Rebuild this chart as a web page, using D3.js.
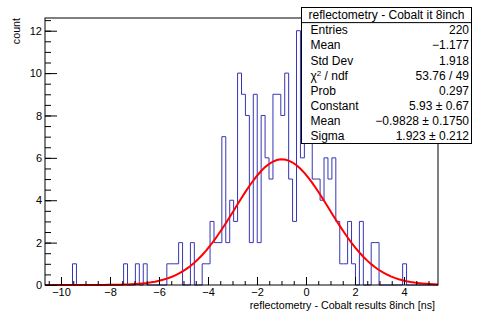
<!DOCTYPE html>
<html><head><meta charset="utf-8">
<script src="https://cdn.jsdelivr.net/npm/d3@7"></script>
<style>
body{margin:0;background:#fff}
svg{display:block}
text{font-family:"Liberation Sans",Arial,Helvetica,sans-serif;fill:#000}
</style>
</head><body>
<svg id="c" width="481" height="321"></svg>
<script>
// ---- data ----
const xMin = -10.653, xMax = 5.388;        // histogram range, 100 bins
const binCounts = [
  0,0,0,0,0,0,0,1,0,0,
  0,0,0,0,0,0,0,0,0,0,
  1,0,0,1,0,1,0,0,0,0,
  0,1,1,1,2,0,0,2,0,0,
  1,1,3,2,2,7,2,4,3,10,
  9,8,2,9,2,8,6,5,9,9,
  8,10,5,3,12,6,7,8,5,5,
  4,6,5,6,3,1,1,3,1,0,
  3,0,0,2,2,0,0,0,0,0,
  0,1,0,0,0,0,0,0,0,0
];
const fitConstant = 5.93, fitMean = -0.9828, fitSigma = 1.923;
const yMaxValue = 12.6;
const xTickValues = [-10,-8,-6,-4,-2,0,2,4];
const yTickValues = [0,2,4,6,8,10,12];
const xTitle = "reflectometry - Cobalt results 8inch [ns]";
const yTitle = "count";
const statsTitle = "reflectometry - Cobalt it 8inch";
const statsLabels = ["Entries","Mean","Std Dev","χ2 / ndf","Prob","Constant","Mean","Sigma"];
const statsValues = ["220","\u22121.177","1.918","53.76 / 49","0.297","5.93 \u00b1 0.67","\u22120.9828 \u00b1 0.1750","1.923 \u00b1 0.212"];

// ---- layout ----
const W = 481, H = 321;
const fL = 45, fR = 438, fT = 18, fB = 285;
const svg = d3.select("#c");
svg.append("rect").attr("width",W).attr("height",H).attr("fill","#fff");

const x = d3.scaleLinear().domain([xMin,xMax]).range([fL,fR]);
const y = d3.scaleLinear().domain([0,yMaxValue]).range([fB,fT]);
const minus = s => String(s).replace("-","\u2212");

// histogram outline (step)
const nBins = binCounts.length;
const bw = (xMax - xMin)/nBins;
const pts = [[xMin,0]];
binCounts.forEach((c,i)=>{ pts.push([xMin+i*bw,c]); pts.push([xMin+(i+1)*bw,c]); });
pts.push([xMax,0]);
svg.append("path")
  .attr("d", d3.line().x(d=>x(d[0])).y(d=>y(d[1]))(pts))
  .attr("fill","none").attr("stroke","#3636b4").attr("stroke-width",1);

// gaussian fit curve from fit parameters
const fitPts = d3.range(0,101).map(k=>{
  const xv = xMin + (xMax-xMin)*k/100;
  return [xv, fitConstant*Math.exp(-0.5*Math.pow((xv-fitMean)/fitSigma,2))];
});
svg.append("path")
  .attr("d", d3.line().x(d=>x(d[0])).y(d=>y(d[1]))(fitPts))
  .attr("fill","none").attr("stroke","#ff0000").attr("stroke-width",2);

// axes
const fs = "11px";
const xMinor = d3.range(-10.5, 5.4, 0.5).filter(v=>v>=xMin && v<=xMax);
const yMinor = d3.range(0, 12.6, 0.5);
const gx = svg.append("g").attr("transform",`translate(0,${fB})`);
gx.call(d3.axisBottom(x).tickValues(xMinor).tickSize(-4).tickFormat(""));
gx.call(g=>g.select(".domain").remove());
const gx2 = svg.append("g").attr("transform",`translate(0,${fB})`);
gx2.call(d3.axisBottom(x).tickValues(xTickValues).tickSize(-8).tickPadding(3.5).tickFormat(d=>minus(d)));
gx2.select(".domain").remove();
gx2.selectAll("text").attr("font-size",fs).attr("font-family","Liberation Sans, Arial, sans-serif").attr("fill","#000");

const gy = svg.append("g").attr("transform",`translate(${fL},0)`);
gy.call(d3.axisLeft(y).tickValues(yMinor).tickSize(-6).tickFormat(""));
gy.select(".domain").remove();
const gy2 = svg.append("g").attr("transform",`translate(${fL},0)`);
gy2.call(d3.axisLeft(y).tickValues(yTickValues).tickSize(-12).tickPadding(3).tickFormat(d=>d));
gy2.select(".domain").remove();
gy2.selectAll("text").attr("font-size",fs).attr("font-family","Liberation Sans, Arial, sans-serif").attr("fill","#000");
svg.selectAll(".tick line").attr("stroke","#000");

// frame
svg.append("rect").attr("x",fL).attr("y",fT).attr("width",fR-fL).attr("height",fB-fT)
  .attr("fill","none").attr("stroke","#000").attr("stroke-width",1);

// axis titles
svg.append("text").attr("x",435).attr("y",309).attr("text-anchor","end")
  .attr("font-size","10.7px").text(xTitle);
svg.append("text").attr("transform","translate(20,18) rotate(-90)").attr("text-anchor","end")
  .attr("font-size","10.7px").text(yTitle);

// stats box
const bx0 = 301.5, bx1 = 471.5, by0 = 7.5, by1 = 143.5;
const rowH = (by1-by0)/9;
svg.append("rect").attr("x",bx0).attr("y",by0).attr("width",bx1-bx0).attr("height",by1-by0)
  .attr("fill","#fff").attr("stroke","#000").attr("stroke-width",1);
svg.append("line").attr("x1",bx0).attr("x2",bx1).attr("y1",by0+rowH).attr("y2",by0+rowH)
  .attr("stroke","#000").attr("stroke-width",1);
svg.append("text").attr("x",(bx0+bx1)/2).attr("y",by0+rowH*0.5+4.2).attr("text-anchor","middle")
  .attr("font-size","12px").text(statsTitle);
statsLabels.forEach((lab,i)=>{
  const yy = by0 + rowH*(i+1.5) + 4.2;
  const t = svg.append("text").attr("x",bx0+9).attr("y",yy).attr("font-size","12px");
  if (lab.startsWith("χ2")) {
    t.append("tspan").text("χ");
    t.append("tspan").attr("dy",-4).attr("font-size","8px").text("2");
    t.append("tspan").attr("dy",4).text(" / ndf");
  } else t.text(lab);
  svg.append("text").attr("x",bx1-2.5).attr("y",yy).attr("text-anchor","end")
    .attr("font-size","12px").text(statsValues[i]);
});
</script>
</body></html>
